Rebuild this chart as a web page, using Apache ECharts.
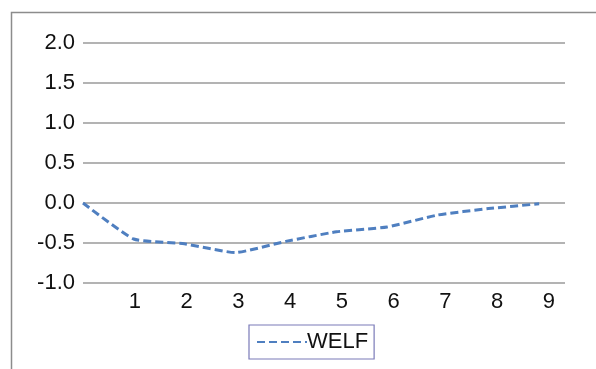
<!DOCTYPE html>
<html>
<head>
<meta charset="utf-8">
<script src="https://cdn.jsdelivr.net/npm/echarts@6/dist/echarts.min.js"></script>
<style>html,body{margin:0;padding:0;background:#fff}#c{width:596px;height:369px}</style>
</head>
<body>
<div id="c"></div>
<script>
var xValues = [0, 1, 2, 3, 4, 5, 6, 7, 8, 9];
var welf = [0.0, -0.45, -0.51, -0.62, -0.48, -0.36, -0.30, -0.15, -0.07, -0.01];
var seriesName = 'WELF';

var chart = echarts.init(document.getElementById('c'), null, {renderer: 'canvas'});
var font = 'Liberation Sans, Arial, sans-serif';
chart.setOption({
  animation: false,
  backgroundColor: '#fff',
  graphic: [{
    type: 'rect', shape: {x: 11.5, y: 12.5, width: 700, height: 500},
    style: {fill: 'none', stroke: '#8c8c8c', lineWidth: 1.5}, silent: true
  }],
  grid: {left: 83, right: 31, top: 43, bottom: 86, containLabel: false},
  legend: {
    data: [seriesName], bottom: 10, left: 249,
    borderColor: '#7a7ab8', borderWidth: 1.2, padding: [6, 6, 6, 7],
    itemWidth: 50, itemHeight: 12, itemGap: 0,
    itemStyle: {opacity: 0},
    textStyle: {fontFamily: font, fontSize: 22, color: '#111', padding: [0, 0, 0, -5]}
  },
  xAxis: [{
    type: 'value', min: 0, max: 9.51, interval: 1,
    axisLine: {show: false}, axisTick: {show: false}, splitLine: {show: false},
    axisLabel: {show: false}
  }, {
    type: 'value', position: 'bottom', min: 0, max: 9.31, interval: 1,
    axisLine: {show: false}, axisTick: {show: false}, splitLine: {show: false},
    axisLabel: {
      fontFamily: font, fontSize: 22, color: '#111', margin: 8, showMaxLabel: false,
      formatter: function (v) { return (v === 0 || v % 1 !== 0) ? '' : String(v); }
    }
  }],
  yAxis: {
    type: 'value', min: -1, max: 2, interval: 0.5,
    axisLine: {show: false}, axisTick: {show: false},
    splitLine: {lineStyle: {color: '#9a9a9a', width: 1.5}},
    axisLabel: {
      fontFamily: font, fontSize: 22, color: '#111', margin: 8,
      formatter: function (v) { return v.toFixed(1); }
    }
  },
  series: [{
    name: seriesName, type: 'line', xAxisIndex: 0, smooth: 0.15, symbol: 'none',
    data: xValues.map(function (x, i) { return [x, welf[i]]; }),
    lineStyle: {color: '#4f7fc0', width: 3, type: [8, 4]},
    itemStyle: {color: '#4f7fc0'}
  }]
});
</script>
</body>
</html>
